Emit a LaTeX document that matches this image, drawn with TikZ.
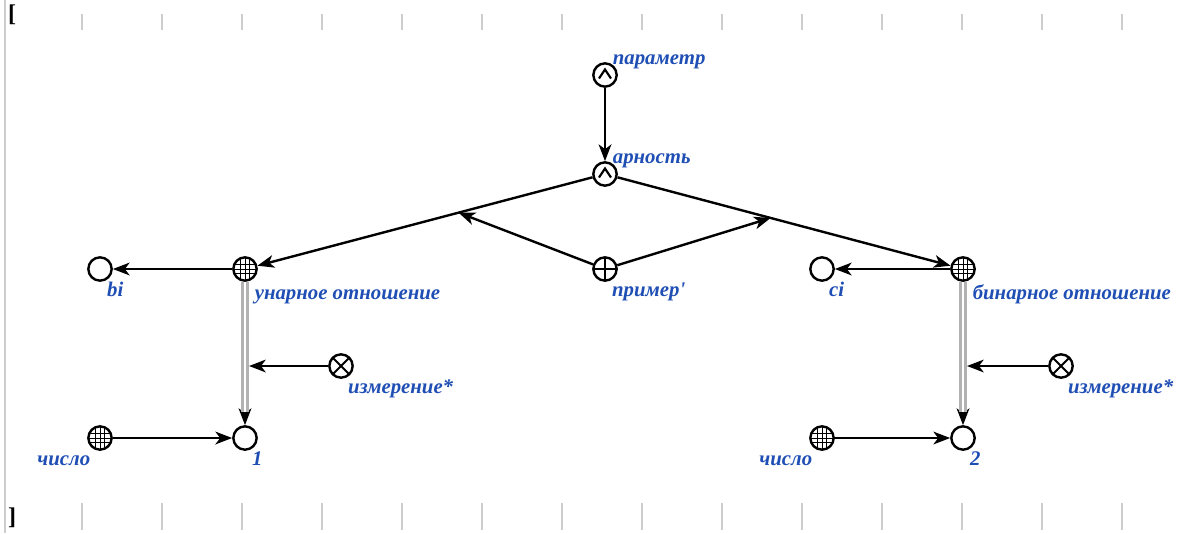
\documentclass[tikz,border=0pt]{standalone}
\usepackage{fontspec}
\newfontfamily\lblfont{Liberation Serif}
\usetikzlibrary{arrows.meta,calc}
\definecolor{lblblue}{RGB}{31,78,180}
\definecolor{tickgray}{RGB}{205,205,205}

\tikzset{
  el/.style={circle, draw, line width=1.8pt, minimum size=17.5pt, inner sep=0pt, fill=white},
  elempty/.style={el},
  elgrid/.style={el, path picture={
      \foreach \d in {-4.5,0,4.5} {
        \draw[line width=0.65pt] ($(path picture bounding box.center)+(\d,-12)$) -- ++(0,24);
        \draw[line width=0.65pt] ($(path picture bounding box.center)+(-12,\d)$) -- ++(24,0);
      }}},
  elvar/.style={el, path picture={
      \draw[line width=1.6pt] ($(path picture bounding box.center)+(-6,3.5)$) -- ++(6,-9) -- ++(6,9);}},
  elplus/.style={el, path picture={
      \draw[line width=1.5pt] ($(path picture bounding box.center)+(0,-12)$) -- ++(0,24);
      \draw[line width=1.5pt] ($(path picture bounding box.center)+(-12,0)$) -- ++(24,0);}},
  elcross/.style={el, path picture={
      \draw[line width=1.5pt] ($(path picture bounding box.center)+(-9,-9)$) -- ++(18,18);
      \draw[line width=1.5pt] ($(path picture bounding box.center)+(-9,9)$) -- ++(18,-18);}},
  lbl/.style={text=lblblue, font=\lblfont\bfseries\itshape\fontsize{15.6}{17}\selectfont,
    inner sep=1pt, text height=0.72em, text depth=0.22em},
  lblbr/.style={lbl, label distance=7.5pt, xshift=-8pt},
  lblbl/.style={lbl, label distance=7.5pt, xshift=6pt},
  arc/.style={line width=1.8pt, -{Stealth[length=12.5pt, width=9.5pt, inset=3.5pt]}},
  dbl/.style={draw=gray!60, line width=1.9pt, double=white, double distance=1.9pt},
  bracket/.style={font=\lblfont\bfseries\fontsize{18}{20}\selectfont, inner sep=0pt}
}

\begin{document}
\begin{tikzpicture}[x=0.75pt, y=-0.75pt]
\useasboundingbox (0,0) rectangle (1187,533);
% frame of the contour
\draw[tickgray, line width=0.8pt] (5,0) -- (5,533);
\foreach \t in {0,...,13} {
  \draw[tickgray, line width=0.8pt] (82+80*\t,14) -- ++(0,16);
  \draw[tickgray, line width=0.8pt] (82+80*\t,503) -- ++(0,27);
}
\node[bracket] (lbr) at (12,15) {[};
\node[bracket] (rbr) at (12,518) {]};

% top
\node[elvar, label={[lbl, label distance=-3pt]above right:параметр}] (param) at (605,75) {};
\node[elvar, label={[lbl, label distance=-3pt]above right:арность}] (arity) at (605,174) {};
\node[elplus, label={[lblbr]below right:пример\textquotesingle}] (example) at (605,269) {};

% unary side
\node[elgrid, label={[lblbr, xshift=2pt, yshift=-2pt]below right:унарное отношение}] (unary) at (245,269) {};
\node[elempty, label={[lblbr]below right:bi}] (bi) at (100,269) {};
\node[elcross, label={[lblbr]below right:измерение*}] (dim1) at (341,366) {};
\node[elgrid, label={[lblbl]below left:число}] (num1) at (100,438) {};
\node[elempty, label={[lblbr]below right:1}] (one) at (245,438) {};

% binary side
\node[elgrid, label={[lblbr, xshift=2pt, yshift=-2pt]below right:бинарное отношение}] (binary) at (963,269) {};
\node[elempty, label={[lblbr]below right:ci}] (ci) at (822,269) {};
\node[elcross, label={[lblbr]below right:измерение*}] (dim2) at (1061,366) {};
\node[elgrid, label={[lblbl]below left:число}] (num2) at (822,438) {};
\node[elempty, label={[lblbr]below right:2}] (two) at (963,438) {};

% arcs
\draw[arc] (param) -- (arity);
\draw[arc] (arity) -- (unary);
\draw[arc] (arity) -- (binary);
\path (arity) -- (unary) coordinate[pos=0.4] (jun);
\path (arity) -- (binary) coordinate[pos=0.46] (jbin);
\draw[arc] (example) -- (jun);
\draw[arc] (example) -- (jbin);
\draw[arc] (unary) -- (bi);
\draw[arc] (binary) -- (ci);
% double arcs
\draw[arc] (unary) -- (one);
\draw[dbl, shorten >=10pt] (unary) -- (one);
\draw[arc] (binary) -- (two);
\draw[dbl, shorten >=10pt] (binary) -- (two);
\coordinate (jone) at ($(unary |- dim1)+(4,0)$);
\coordinate (jtwo) at ($(binary |- dim2)+(4,0)$);
\draw[arc] (dim1) -- (jone);
\draw[arc] (dim2) -- (jtwo);
\draw[arc] (num1) -- (one);
\draw[arc] (num2) -- (two);
\end{tikzpicture}
\end{document}
